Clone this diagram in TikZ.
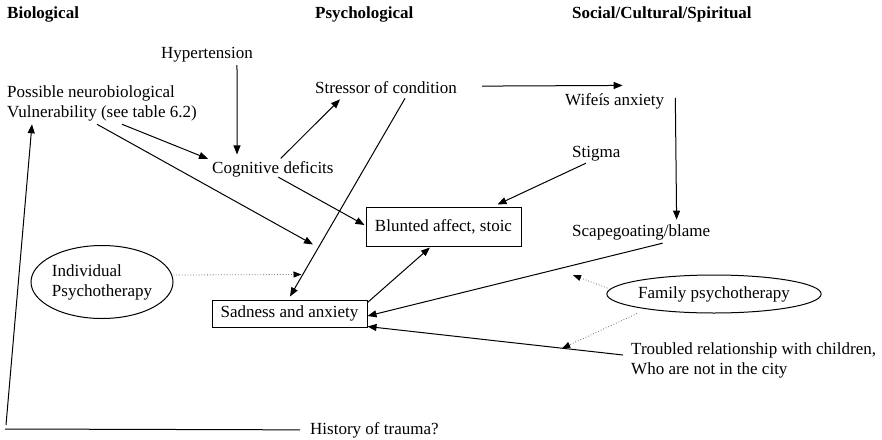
\documentclass[tikz,border=0pt]{standalone}
\usepackage{fontspec}
\setmainfont{Liberation Serif}
\usetikzlibrary{arrows.meta,shapes.geometric}
\begin{document}
\begin{tikzpicture}[x=1pt,y=-1pt,
  txt/.style={inner sep=0pt, font=\fontsize{17}{20}\selectfont},
  head/.style={inner sep=0pt, font=\fontsize{17}{20}\selectfont\bfseries},
  boxnode/.style={draw, line width=1pt, rectangle, minimum width=155pt, inner sep=0pt, font=\fontsize{17}{20}\selectfont},
  ovalnode/.style={draw, line width=1pt, ellipse, inner sep=0pt, align=left, font=\fontsize{17}{20}\selectfont},
  arr/.style={line width=1pt, -{Triangle[length=9pt,width=7pt]}},
  dotarr/.style={line width=0.8pt, black!60, dotted, -{Triangle[length=8pt,width=6pt,black]}},
  link/.style={line width=1pt}]
\useasboundingbox (0,0) rectangle (882,439);

% column headings
\node[head, anchor=base west] (hbio) at (7,18) {Biological};
\node[head, anchor=base west] (hpsy) at (315,18) {Psychological};
\node[head, anchor=base west] (hsoc) at (572,18) {Social/Cultural/Spiritual};

% factors
\node[txt, anchor=base west] (hyper) at (161,58) {Hypertension};
\node[txt, anchor=north west, align=left] (vuln) at (7,85.4) {Possible neurobiological\\Vulnerability (see table 6.2)};
\node[txt, anchor=base west] (stress) at (315,93) {Stressor of condition};
\node[txt, anchor=base west] (cog) at (212,173) {Cognitive deficits};
\node[txt, anchor=base west] (wife) at (565,105) {Wifeís anxiety};
\node[txt, anchor=base west] (stigma) at (572,157) {Stigma};
\node[txt, anchor=base west] (scape) at (572,236) {Scapegoating/blame};
\node[txt, anchor=north west, align=left] (trouble) at (631,342.4) {Troubled relationship with children,\\Who are not in the city};
\node[txt, anchor=base west] (trauma) at (310,434) {History of trauma?};

% outcomes
\node[boxnode, minimum height=39pt] (blunt) at (443.5,226.5) {Blunted affect, stoic};
\node[boxnode, minimum height=27pt] (sad) at (289.5,313.5) {Sadness and anxiety};

% interventions
\node[ovalnode, minimum width=142pt, minimum height=73pt] (indiv) at (102,282) {Individual\\Psychotherapy};
\node[ovalnode, minimum width=206pt, minimum height=38pt] (family) at (714,294) {Family psychotherapy};

% causal links
\draw[arr] ([shift={(30,3.3)}]hyper.south) -- ([shift={(25,-6.4)}]cog.north west);
\draw[arr] ([shift={(115,3)}]vuln.south west) -- ([shift={(-4,-10)}]cog.west);
\draw[arr] ([shift={(90,3)}]vuln.south west) -- ([shift={(23.5,-55)}]sad.north);
\draw[arr] ([shift={(-53,-2.4)}]cog.north east) -- ([shift={(25,6)}]stress.south west);
\draw[arr] ([shift={(90,5)}]stress.south west) -- ([shift={(0.5,-3)}]sad.north);
\draw[arr] ([shift={(5.5,0.3)}]cog.south) -- ([shift={(-1,-1.5)}]blunt.west);
\draw[arr] ([shift={(14,2.3)}]stigma.south west) -- ([shift={(-24,-2)}]blunt.north east);
\draw[arr] ([shift={(0,3)}]sad.north east) -- ([shift={(-13.5,1)}]blunt.south);
\draw[arr] ([shift={(25,-1)}]stress.east) -- ([shift={(8,-7.4)}]wife.north);
\draw[arr] ([shift={(11,-3)}]wife.east) -- ([shift={(35.5,-4.4)}]scape.north);
\draw[arr] ([shift={(21.5,3.3)}]scape.south) -- ([shift={(0,2.5)}]sad.east);
\draw[arr] ([shift={(-8,12.6)}]trouble.north west) -- coordinate[pos=0.238] (trmid) ([shift={(0,-1)}]sad.south east);

% history of trauma, running back up to the vulnerability
\coordinate (corner) at (5,429);
\draw[link] ([xshift=-10pt]trauma.west) -- (corner);
\draw[arr] ([shift={(1,-4)}]corner) -- ([shift={(25,3)}]vuln.south west);

% therapy effects
\draw[dotarr] ([shift={(0,-7)}]indiv.east) -- ([shift={(90,-25)}]sad.north west);
\draw[dotarr] ([shift={(1,-6)}]family.west) -- ([shift={(1,35.3)}]scape.south west);
\draw[dotarr] ([shift={(-77,0)}]family.south) -- (trmid);
\end{tikzpicture}
\end{document}
